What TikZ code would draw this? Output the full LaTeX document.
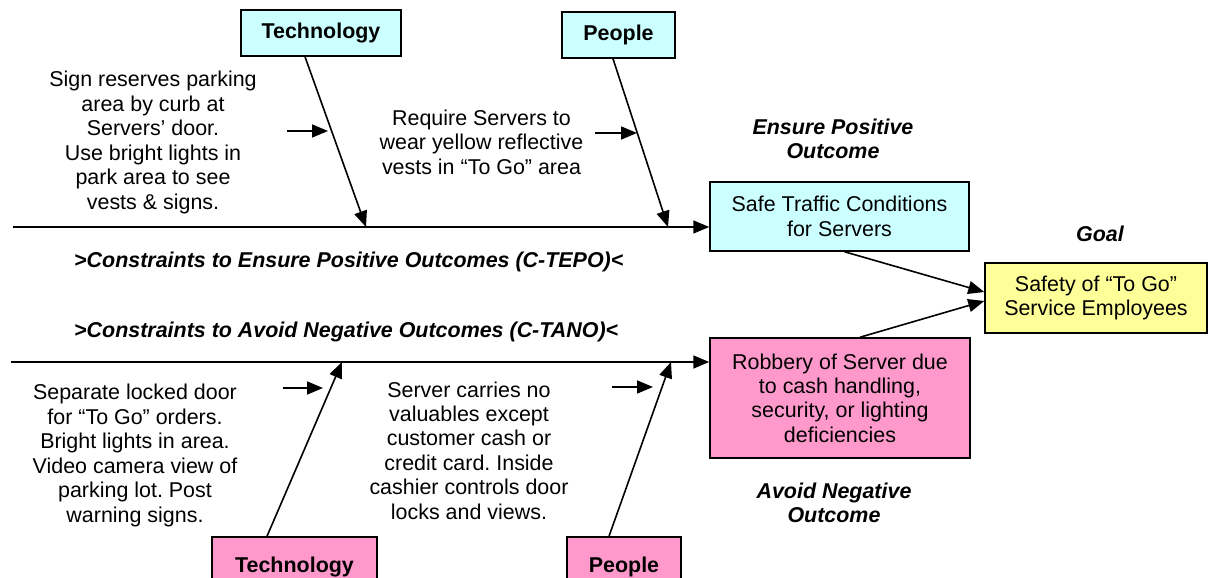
\documentclass[tikz,border=0pt]{standalone}
\usepackage{fontspec}
\setmainfont{Liberation Sans}
\usetikzlibrary{arrows.meta, positioning}

\definecolor{posfill}{HTML}{CCFFFF}
\definecolor{negfill}{HTML}{FF99CC}
\definecolor{goalfill}{HTML}{FFFF99}

\frenchspacing

\begin{document}
\begin{tikzpicture}[
      font=\fontsize{12.2}{13.9}\selectfont,
      cause/.style={draw, line width=0.3mm, minimum height=0.92cm, font=\fontsize{12.2}{13.9}\selectfont\bfseries},
      outcome/.style={draw, line width=0.3mm, align=center},
      note/.style={align=center},
      head/.style={align=center, font=\fontsize{12.2}{13.9}\selectfont\bfseries\itshape},
      arr/.style={-{Triangle[length=3.2mm, width=2.6mm]}, line width=0.32mm}
    ]
      \useasboundingbox (0,0) rectangle (24.18,-11.56);
      \clip (0,0) rectangle (24.18,-11.56);

      % Causes, upper and lower
      \node[cause, fill=posfill, minimum width=3.2cm] (ttech) at (6.42,-0.66) {Technology};
      \node[cause, fill=posfill, minimum width=2.26cm] (tpeople) at (12.37,-0.7) {People};
      \node[cause, fill=negfill, minimum width=3.3cm, minimum height=1.2cm] (btech) at (5.89,-11.34) {Technology};
      \node[cause, fill=negfill, minimum width=2.28cm, minimum height=1.2cm] (bpeople) at (12.48,-11.34) {People};

      % Outcomes and goal
      \node[outcome, fill=posfill, minimum width=5.18cm, minimum height=1.38cm] (safe) at (16.79,-4.33) {Safe Traffic Conditions\\for Servers};
      \node[outcome, fill=negfill, minimum width=5.2cm, minimum height=2.4cm] (robbery) at (16.8,-7.96) {Robbery of Server due\\to cash handling,\\security, or lighting\\deficiencies};
      \node[outcome, fill=goalfill, minimum width=4.44cm, minimum height=1.4cm] (goal) at (21.92,-5.96) {Safety of “To Go”\\Service Employees};

      % Headings
      \node[head] (poshead) at (16.66,-2.78) {Ensure Positive\\Outcome};
      \node[head] (neghead) at (16.68,-10.06) {Avoid Negative\\Outcome};
      \node[head] (goalhead) at (22.0,-4.68) {Goal};
      \node[head, anchor=west] (tepo) at (1.36,-5.24) {>Constraints to Ensure Positive Outcomes (C-TEPO)<};
      \node[head, anchor=west] (tano) at (1.36,-6.64) {>Constraints to Avoid Negative Outcomes (C-TANO)<};

      % Constraint notes
      \node[note] (ttechnote) at (3.06,-2.85) {Sign reserves parking\\area by curb at\\Servers’ door.\\Use bright lights in\\park area to see\\vests \& signs.};
      \node[note] (tpeoplenote) at (9.63,-2.84) {Require Servers to\\wear yellow reflective\\vests in “To Go” area};
      \node[note] (btechnote) at (2.7,-9.11) {Separate locked door\\for “To Go” orders.\\Bright lights in area.\\Video camera view of\\parking lot. Post\\warning signs.};
      \node[note] (bpeoplenote) at (9.38,-9.01) {Server carries no\\valuables except\\customer cash or\\credit card. Inside\\cashier controls door\\locks and views.};

      % Spine points
      \coordinate (tspine) at (0.26,-4.54);
      \coordinate (bspine) at (0.22,-7.24);
      \coordinate (j1) at (7.32,-4.54);
      \coordinate (j2) at (13.36,-4.54);
      \coordinate (j3) at (6.84,-7.24);
      \coordinate (j4) at (13.42,-7.24);

      % Small pointer arrows
      \coordinate (p1a) at (5.74,-2.62);  \coordinate (p1b) at (6.56,-2.62);
      \coordinate (p2a) at (11.9,-2.66);  \coordinate (p2b) at (12.74,-2.66);
      \coordinate (p3a) at (5.66,-7.76);  \coordinate (p3b) at (6.46,-7.76);
      \coordinate (p4a) at (12.24,-7.74); \coordinate (p4b) at (13.06,-7.74);

      % Spines
      \draw[arr] (tspine) -- (tspine -| safe.west);
      \draw[arr] (bspine) -- (bspine -| robbery.west);

      % Branches
      \draw[arr] ([xshift=-3.2mm]ttech.south) -- (j1);
      \draw[arr] ([xshift=-1.1mm]tpeople.south) -- (j2);
      \draw[arr] ([xshift=-5.5mm]btech.north) -- (j3);
      \draw[arr] ([xshift=-3mm]bpeople.north) -- (j4);

      \draw[arr] (p1a) -- (p1b);
      \draw[arr] (p2a) -- (p2b);
      \draw[arr] (p3a) -- (p3b);
      \draw[arr] (p4a) -- (p4b);

      % Outcomes into goal
      \draw[arr] ([xshift=1mm]safe.south) -- ([yshift=1.2mm]goal.west);
      \draw[arr] ([xshift=4mm]robbery.north) -- ([yshift=-0.6mm]goal.west);
    \end{tikzpicture}
\end{document}
